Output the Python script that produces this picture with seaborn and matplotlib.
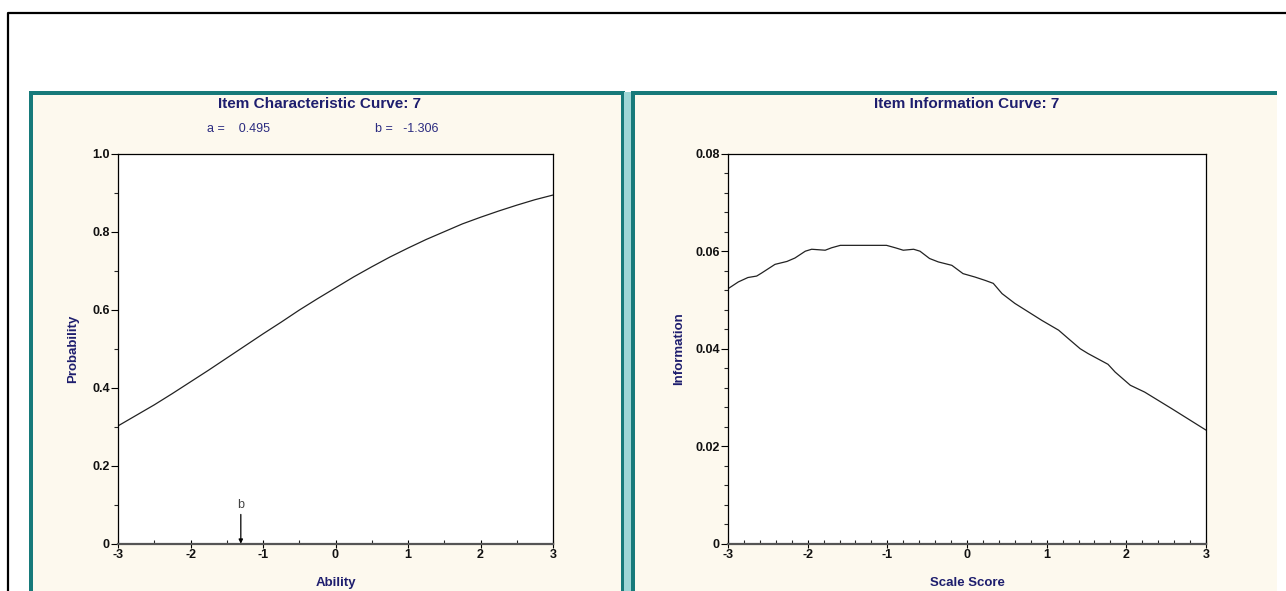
import matplotlib
matplotlib.use("Agg")
import matplotlib.pyplot as plt
import matplotlib.ticker as mticker
from matplotlib.patches import Rectangle
from matplotlib.lines import Line2D
import pandas as pd
import seaborn as sns

# item parameters shown in the header
a_param = 0.495
b_param = -1.306

# item characteristic curve
ability = [-3.0, -2.75, -2.5, -2.25, -2.0, -1.75, -1.5, -1.25, -1.0, -0.75, -0.5, -0.25,
           0.0, 0.25, 0.5, 0.75, 1.0, 1.25, 1.5, 1.75, 2.0, 2.25, 2.5, 2.75, 3.0]
probability = [0.302, 0.329, 0.356, 0.385, 0.415, 0.445, 0.476, 0.507, 0.538, 0.568, 0.599, 0.628,
               0.656, 0.684, 0.710, 0.735, 0.758, 0.780, 0.800, 0.820, 0.837, 0.853, 0.868, 0.882, 0.894]

# item information curve
scale_score = [-3.0, -2.87, -2.75, -2.64, -2.58, -2.41, -2.26, -2.16, -2.03, -1.95, -1.78, -1.70,
               -1.59, -1.01, -0.90, -0.80, -0.67, -0.59, -0.47, -0.36, -0.19, -0.05, 0.10, 0.23,
               0.33, 0.44, 0.60, 0.94, 1.15, 1.27, 1.42, 1.52, 1.77, 1.86, 2.05, 2.23, 2.57, 3.0]
information = [0.0523, 0.0537, 0.0546, 0.0549, 0.0555, 0.0573, 0.0579, 0.0586, 0.0600, 0.0604, 0.0602, 0.0607,
               0.0612, 0.0612, 0.0607, 0.0602, 0.0604, 0.0600, 0.0585, 0.0578, 0.0571, 0.0554, 0.0547, 0.0540,
               0.0534, 0.0513, 0.0493, 0.0458, 0.0438, 0.0421, 0.0400, 0.0390, 0.0368, 0.0352, 0.0325, 0.0311,
               0.0277, 0.0233]

icc = pd.DataFrame({'ability': ability, 'probability': probability})
iic = pd.DataFrame({'score': scale_score, 'information': information})

W, H = 1286, 591
NAVY = '#1e1e6e'
TEAL = '#177a7a'
CREAM = '#fdf9ee'

sns.set_style('white')
plt.rcParams['font.family'] = ['Liberation Sans', 'DejaVu Sans']
plt.rcParams['axes.unicode_minus'] = False

fig = plt.figure(figsize=(W / 100, H / 100), dpi=100)
fig.patch.set_facecolor('white')


def px_rect(x0, y0, x1, y1, color):
    # rectangle in pixel coords (y from top)
    fig.add_artist(Rectangle((x0 / W, 1 - y1 / H), (x1 - x0) / W, (y1 - y0) / H,
                             transform=fig.transFigure, facecolor=color, edgecolor='none', zorder=0))


def px_line(xs, ys, color, lw):
    fig.add_artist(Line2D([x / W for x in xs], [1 - y / H for y in ys],
                          transform=fig.transFigure, color=color, lw=lw, zorder=1))


# panels
px_rect(29, 91, 625, 600, TEAL)
px_rect(33, 95, 621, 600, CREAM)
px_rect(624, 92, 631, 600, '#9fd6d6')
px_rect(631, 91, 1277, 600, TEAL)
px_rect(635, 95, 1277, 600, CREAM)
# outer frame
px_line([8, 8, 1286], [600, 13, 13], 'black', 1.6)


def px_axes(x0, y0, x1, y1):
    return fig.add_axes([x0 / W, 1 - y1 / H, (x1 - x0) / W, (y1 - y0) / H])


def style_axes(ax):
    ax.set_facecolor('white')
    for side in ['top', 'right', 'left']:
        ax.spines[side].set_visible(True)
        ax.spines[side].set_color('black')
        ax.spines[side].set_linewidth(0.9)
    ax.spines['bottom'].set_color('#555555')
    ax.spines['bottom'].set_linewidth(1.6)
    ax.tick_params(axis='y', which='major', direction='out', length=5, width=0.8, pad=1,
                   left=True, labelsize=9, colors='black')
    ax.tick_params(axis='y', which='minor', direction='out', length=3, width=0.8, left=True)
    ax.tick_params(axis='x', which='major', direction='inout', length=6, width=0.8, pad=1,
                   bottom=True, labelsize=9, colors='black')
    ax.tick_params(axis='x', which='minor', direction='in', length=3, width=0.8, bottom=True)
    for lab in ax.get_xticklabels() + ax.get_yticklabels():
        lab.set_fontweight('bold')
        lab.set_color('#111111')


# left: item characteristic curve
ax1 = px_axes(118, 153.7, 553, 543.7)
sns.lineplot(data=icc, x='ability', y='probability', ax=ax1, color='#222222', lw=0.9)
ax1.set_xlim(-3, 3)
ax1.set_ylim(0, 1)
ax1.set_xticks(range(-3, 4))
ax1.xaxis.set_minor_locator(mticker.MultipleLocator(0.5))
ax1.set_yticks([0, 0.2, 0.4, 0.6, 0.8, 1.0])
ax1.set_yticklabels(['0', '0.2', '0.4', '0.6', '0.8', '1.0'])
ax1.yaxis.set_minor_locator(mticker.MultipleLocator(0.1))
style_axes(ax1)
ax1.set_xlabel('Ability', fontsize=9.5, fontweight='bold', color=NAVY)
ax1.set_ylabel('Probability', fontsize=9.5, fontweight='bold', color=NAVY)
ax1.xaxis.set_label_coords(0.5, -0.085)
ax1.yaxis.set_label_coords(-0.09, 0.5)
ax1.annotate('', xy=(b_param, 0.0), xytext=(b_param, 0.075),
             arrowprops=dict(arrowstyle='-|>', color='black', lw=0.9, mutation_scale=6,
                             shrinkA=0, shrinkB=0))
ax1.text(b_param, 0.1, 'b', ha='center', va='center', fontsize=9, color='#444444')

# right: item information curve
ax2 = px_axes(728, 153.7, 1206, 543.7)
sns.lineplot(data=iic, x='score', y='information', ax=ax2, color='#222222', lw=0.9)
ax2.set_xlim(-3, 3)
ax2.set_ylim(0, 0.08)
ax2.set_xticks(range(-3, 4))
ax2.xaxis.set_minor_locator(mticker.MultipleLocator(0.2))
ax2.set_yticks([0, 0.02, 0.04, 0.06, 0.08])
ax2.set_yticklabels(['0', '0.02', '0.04', '0.06', '0.08'])
ax2.yaxis.set_minor_locator(mticker.MultipleLocator(0.004))
style_axes(ax2)
ax2.set_xlabel('Scale Score', fontsize=9.5, fontweight='bold', color=NAVY)
ax2.set_ylabel('Information', fontsize=9.5, fontweight='bold', color=NAVY)
ax2.xaxis.set_label_coords(0.5, -0.085)
ax2.yaxis.set_label_coords(-0.09, 0.5)

# titles and parameter line
fig.text(320 / W, 1 - 104 / H, 'Item Characteristic Curve: 7', ha='center', va='center',
         fontsize=11, fontweight='bold', color=NAVY)
fig.text(967 / W, 1 - 104 / H, 'Item Information Curve: 7', ha='center', va='center',
         fontsize=11, fontweight='bold', color=NAVY)
fig.text(207 / W, 1 - 129 / H, f'a =    {a_param:.3f}', ha='left', va='center',
         fontsize=9, color='#2b2b80')
fig.text(375 / W, 1 - 129 / H, f'b =   {b_param:.3f}', ha='left', va='center',
         fontsize=9, color='#2b2b80')

fig.savefig('out.png', dpi=100)
